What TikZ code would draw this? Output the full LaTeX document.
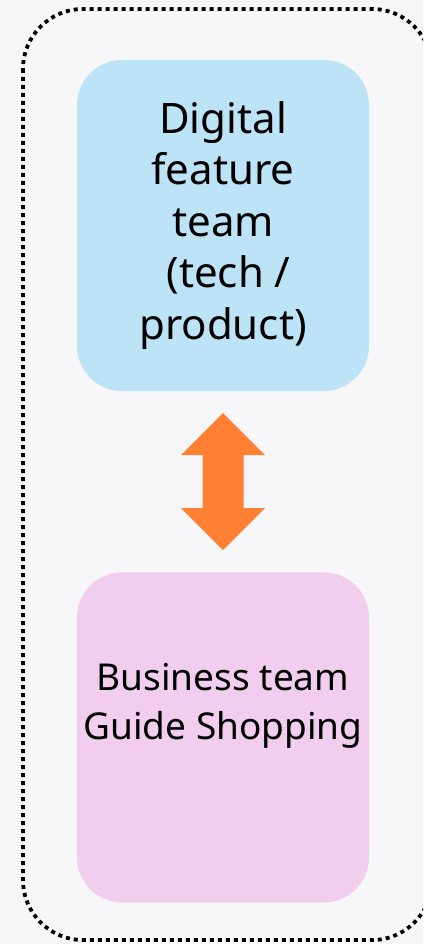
\documentclass[tikz,border=0pt]{standalone}
\usepackage{fontspec}
\setmainfont{Noto Sans}
\usetikzlibrary{calc,positioning}
\definecolor{bgc}{HTML}{F7F7F9}
\definecolor{techc}{HTML}{BDE3F7}
\definecolor{bizc}{HTML}{F2CEEE}
\definecolor{arrc}{HTML}{FF8033}
\begin{document}
\begin{tikzpicture}[x=1pt,y=-1pt,
    teambox/.style={rounded corners=45pt,minimum width=292pt,inner sep=0pt,align=center},
    frame/.style={line width=3.8pt,dash pattern=on 4pt off 4pt,rounded corners=60pt}]
  \useasboundingbox[fill=bgc] (0,0) rectangle (423,944);
  \clip (0,0) rectangle (423,944);
  \draw[frame] (23,9) rectangle (432,940);
  \node[teambox,fill=techc,minimum height=331pt,font=\fontsize{42}{51.5}\selectfont]
    (tech) at (223,225.5) {Digital\\feature\\team~\\~(tech /\\product)};
  \node[teambox,fill=bizc,minimum height=330pt,below=181pt of tech] (biz) {};
  \node[font=\fontsize{37}{49}\selectfont,align=center] (bizlbl) at ($(biz.center)+(0,-32)$)
    {Business team\\Guide Shopping};
  % double-headed arrow between the two teams
  \coordinate (mid) at ($(tech.south)!0.5!(biz.north)$);
  \fill[arrc] ($(mid)+(0,-68.5)$) -- ++(42,42) -- ++(-21.5,0) -- ++(0,53)
    -- ++(21.5,0) -- ($(mid)+(0,68.5)$) -- ++(-42,-42) -- ++(21.5,0)
    -- ++(0,-53) -- ++(-21.5,0) -- cycle;
\end{tikzpicture}
\end{document}
